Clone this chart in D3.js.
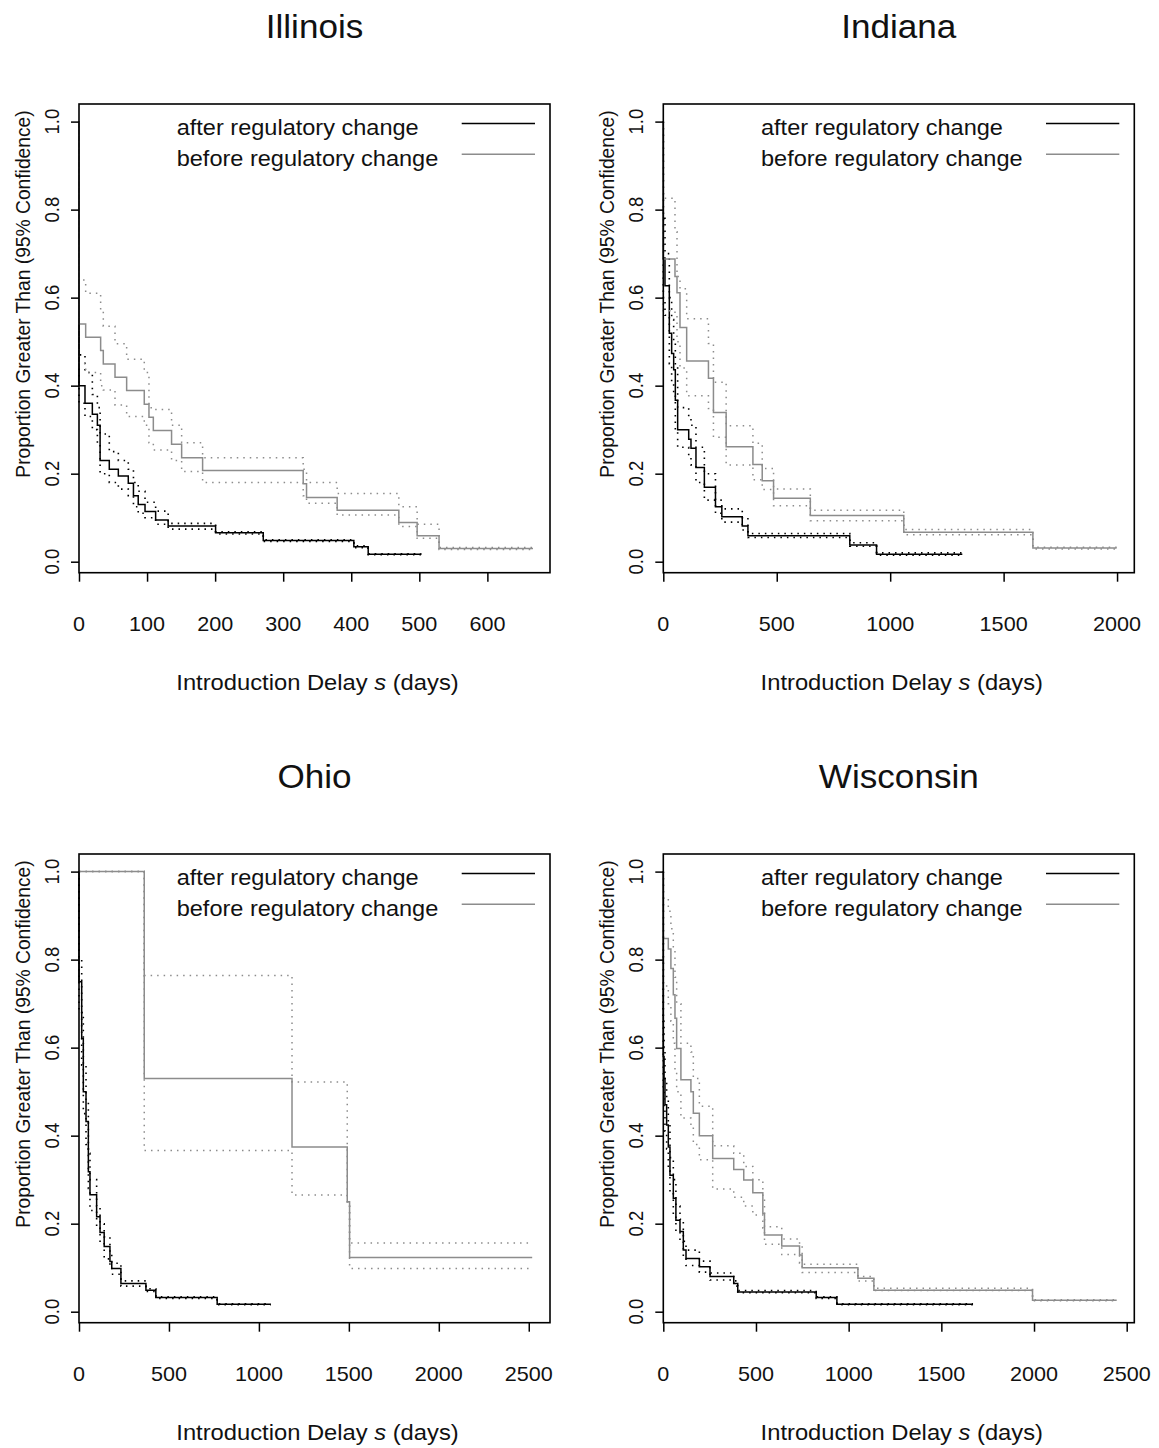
<!DOCTYPE html>
<html>
<head>
<meta charset="utf-8">
<script src="https://cdn.jsdelivr.net/npm/d3@7"></script>
<style>
  body { margin: 0; background: #fff; }
  svg { display: block; }
</style>
</head>
<body>
<svg id="chart" width="1159" height="1448"></svg>
<script>
// ==================== DATA ====================
// every row: [time (days), estimate, lower 95%, upper 95%]
const illinoisAfter = [
  [0, 0.40, 0.36, 0.47], [8.8, 0.36, 0.33, 0.43], [19.6, 0.335, 0.30, 0.38],
  [27, 0.31, 0.27, 0.35], [31, 0.23, 0.20, 0.29], [44.5, 0.21, 0.18, 0.25],
  [57.8, 0.195, 0.165, 0.23], [72.4, 0.178, 0.15, 0.21], [80, 0.15, 0.125, 0.18],
  [87, 0.13, 0.11, 0.16], [97, 0.114, 0.10, 0.135], [112.6, 0.095, 0.085, 0.115],
  [131, 0.081, 0.074, 0.087], [200.7, 0.066, 0.063, 0.068], [270.7, 0.048, 0.046, 0.05],
  [403.8, 0.034, 0.032, 0.036], [424.9, 0.017, 0.016, 0.018]
];
const illinoisBefore = [
  [0, 0.54, 0.45, 0.64], [9.8, 0.51, 0.43, 0.61], [31.8, 0.48, 0.40, 0.57],
  [35.7, 0.449, 0.39, 0.535], [52.9, 0.419, 0.356, 0.495], [70, 0.389, 0.33, 0.46],
  [95.9, 0.358, 0.31, 0.43], [102.8, 0.328, 0.27, 0.35], [109.2, 0.298, 0.254, 0.346],
  [136, 0.267, 0.23, 0.31], [150.8, 0.236, 0.205, 0.27], [181.6, 0.207, 0.18, 0.236],
  [329.4, 0.177, 0.15, 0.21], [334.3, 0.146, 0.133, 0.18], [379.3, 0.117, 0.106, 0.155],
  [469.9, 0.089, 0.08, 0.125], [496.8, 0.059, 0.053, 0.085], [529, 0.030, 0.028, 0.032]
];
const indianaAfter = [
  [0, 0.69, 0.60, 0.78], [7.4, 0.627, 0.56, 0.70], [26.5, 0.519, 0.45, 0.60],
  [36.8, 0.473, 0.41, 0.55], [45.7, 0.436, 0.38, 0.50], [53, 0.367, 0.30, 0.44],
  [63.3, 0.30, 0.26, 0.35], [112, 0.278, 0.24, 0.33], [122, 0.258, 0.22, 0.31],
  [144, 0.214, 0.18, 0.26], [181, 0.169, 0.14, 0.20], [230, 0.125, 0.11, 0.14],
  [258, 0.102, 0.09, 0.12], [348, 0.081, 0.072, 0.10], [373, 0.059, 0.055, 0.064],
  [822, 0.038, 0.035, 0.043], [940, 0.017, 0.015, 0.02]
];
const indianaBefore = [
  [0, 0.688, 0.57, 0.826], [51.5, 0.648, 0.56, 0.75], [60.4, 0.611, 0.50, 0.648],
  [73.6, 0.532, 0.44, 0.62], [103, 0.456, 0.377, 0.552], [199, 0.417, 0.348, 0.496],
  [221, 0.339, 0.283, 0.408], [277, 0.261, 0.22, 0.309], [395, 0.221, 0.186, 0.269],
  [436, 0.184, 0.164, 0.212], [486, 0.144, 0.127, 0.165], [648, 0.105, 0.093, 0.117],
  [1060, 0.067, 0.061, 0.073], [1629, 0.031, 0.029, 0.033]
];
const ohioAfter = [
  [0, 0.75, 0.68, 0.80], [15, 0.621, 0.56, 0.68], [24, 0.50, 0.45, 0.56],
  [39, 0.432, 0.38, 0.48], [52, 0.318, 0.28, 0.36], [61, 0.266, 0.23, 0.30],
  [98, 0.216, 0.19, 0.24], [117, 0.18, 0.16, 0.20], [140, 0.148, 0.12, 0.17],
  [172, 0.114, 0.10, 0.13], [182, 0.098, 0.085, 0.11], [233, 0.064, 0.058, 0.07],
  [372, 0.049, 0.046, 0.052], [427, 0.032, 0.030, 0.034], [768, 0.017, 0.016, 0.018]
];
const ohioBefore = [
  [0, 1.0, 1.0, 1.0], [362.7, 0.530, 0.366, 0.764], [1184, 0.374, 0.265, 0.522],
  [1491, 0.25, 0.25, 0.25], [1504, 0.123, 0.098, 0.156]
];
const wisconsinAfter = [
  [0, 0.58, 0.50, 0.66], [4, 0.53, 0.46, 0.60], [9, 0.47, 0.41, 0.53],
  [18, 0.424, 0.37, 0.48], [27, 0.374, 0.32, 0.43], [36, 0.31, 0.27, 0.35],
  [54, 0.258, 0.22, 0.30], [68, 0.208, 0.18, 0.24], [90, 0.182, 0.16, 0.21],
  [108, 0.14, 0.12, 0.16], [122.5, 0.121, 0.105, 0.14], [194.5, 0.102, 0.09, 0.115],
  [252, 0.08, 0.072, 0.088], [380, 0.064, 0.058, 0.07], [401.6, 0.045, 0.043, 0.048],
  [825, 0.032, 0.030, 0.034], [936.5, 0.017, 0.016, 0.018]
];
const wisconsinBefore = [
  [0, 0.848, 0.74, 0.94], [27, 0.824, 0.70, 0.91], [41, 0.78, 0.66, 0.87],
  [54, 0.72, 0.61, 0.82], [63, 0.667, 0.55, 0.76], [72, 0.598, 0.50, 0.70],
  [95, 0.527, 0.44, 0.61], [149, 0.50, 0.42, 0.59], [162, 0.451, 0.38, 0.53],
  [194.5, 0.40, 0.345, 0.467], [266.5, 0.348, 0.279, 0.377], [380, 0.323, 0.26, 0.36],
  [434, 0.299, 0.24, 0.33], [483, 0.27, 0.22, 0.30], [537, 0.223, 0.19, 0.26],
  [546, 0.174, 0.153, 0.193], [639, 0.149, 0.13, 0.165], [735, 0.129, 0.11, 0.15],
  [749, 0.10, 0.089, 0.108], [1050, 0.076, 0.07, 0.08], [1136, 0.049, 0.048, 0.053],
  [1992, 0.026, 0.025, 0.027]
];

// last follow-up time of each curve: [after, before]
const lastTime = {
  illinois: [503, 667], indiana: [1318, 1998], ohio: [1066, 2519], wisconsin: [1671, 2446]
};

const stateNames = ["Illinois", "Indiana", "Ohio", "Wisconsin"];
const xTicks = [
  [0, 100, 200, 300, 400, 500, 600],
  [0, 500, 1000, 1500, 2000],
  [0, 500, 1000, 1500, 2000, 2500],
  [0, 500, 1000, 1500, 2000, 2500]
];
const xMax = [692, 2076, 2618, 2541];
const yTicks = [0, 0.2, 0.4, 0.6, 0.8, 1.0];
const legendLabels = ["after regulatory change", "before regulatory change"];
const yTitle = "Proportion Greater Than (95% Confidence)";

// ==================== LAYOUT ====================
const boxW = 471, boxH = 468.7;
const boxX = [79, 663.3, 79, 663.3];
const boxY = [104, 104, 854, 854];
const GREY = "#8c8c8c";
const FONT = "'Liberation Sans', Arial, Helvetica, sans-serif";
const SX = 1.08; // glyphs in the source are slightly wider than tall

const svg = d3.select("#chart");

function label(g, x, y, str, size, rotate) {
  return g.append("text")
    .attr("transform", `translate(${x},${y}) scale(${SX},1)` + (rotate ? " rotate(-90)" : ""))
    .attr("text-anchor", "middle")
    .style("font-family", FONT)
    .style("font-size", size + "px")
    .attr("fill", "#111")
    .text(str);
}

const curves = [
  [illinoisAfter, illinoisBefore, lastTime.illinois],
  [indianaAfter, indianaBefore, lastTime.indiana],
  [ohioAfter, ohioBefore, lastTime.ohio],
  [wisconsinAfter, wisconsinBefore, lastTime.wisconsin]
];

stateNames.forEach((name, i) => {
  const x0 = boxX[i], y0 = boxY[i];
  const g = svg.append("g");

  const x = d3.scaleLinear().domain([0, xMax[i]]).range([x0, x0 + boxW]);
  const y = d3.scaleLinear().domain([-0.025, 1.04]).range([y0 + boxH, y0]);

  // step path starting at (0, 1)
  function stepPath(rows, col, end) {
    const pts = [[0, 1]].concat(rows.map((r) => [r[0], r[col]]));
    pts.push([end, rows[rows.length - 1][col]]);
    return d3.line().x((d) => x(d[0])).y((d) => y(d[1])).curve(d3.curveStepAfter)(pts);
  }

  const [after, before, ends] = curves[i];

  // after: black
  [2, 3].forEach((col) => {
    g.append("path").attr("d", stepPath(after, col, ends[0]))
      .attr("fill", "none").attr("stroke", "#000").attr("stroke-width", 1.6)
      .attr("stroke-dasharray", "1.5,5");
  });
  g.append("path").attr("d", stepPath(after, 1, ends[0]))
    .attr("fill", "none").attr("stroke", "#000").attr("stroke-width", 1.5);

  // before: grey (drawn over, so the shared drop at s = 0 reads grey)
  [2, 3].forEach((col) => {
    g.append("path").attr("d", stepPath(before, col, ends[1]))
      .attr("fill", "none").attr("stroke", GREY).attr("stroke-width", 1.5)
      .attr("stroke-dasharray", "1.5,5");
  });
  g.append("path").attr("d", stepPath(before, 1, ends[1]))
    .attr("fill", "none").attr("stroke", GREY).attr("stroke-width", 1.5);

  // box
  g.append("rect")
    .attr("x", x0).attr("y", y0).attr("width", boxW).attr("height", boxH)
    .attr("fill", "none").attr("stroke", "#000").attr("stroke-width", 1.6);

  // axes (tick marks only; labels drawn below)
  const xa = g.append("g").attr("transform", `translate(0,${y0 + boxH})`)
    .call(d3.axisBottom(x).tickValues(xTicks[i]).tickSize(9).tickFormat(""));
  const ya = g.append("g").attr("transform", `translate(${x0},0)`)
    .call(d3.axisLeft(y).tickValues(yTicks).tickSize(8).tickFormat(""));
  [xa, ya].forEach((a) => {
    a.select(".domain").remove();
    a.selectAll("line").attr("stroke", "#000").attr("stroke-width", 1.5);
  });

  xTicks[i].forEach((t) => label(g, x(t), y0 + boxH + 58.5, String(t), 20));
  yTicks.forEach((t) => label(g, x0 - 20, y(t), t.toFixed(1), 18.5, true));

  // titles
  label(g, x0 + boxW / 2, y0 - 66, name, 32.5);
  label(g, x0 - 49, y0 + 190, yTitle, 19.25, true);

  const xl = label(g, x0 + boxW / 2 + 3, y0 + boxH + 117, "", 22);
  xl.append("tspan").text("Introduction Delay ");
  xl.append("tspan").style("font-style", "italic").text("s");
  xl.append("tspan").text(" (days)");

  // legend
  legendLabels.forEach((txt, k) => {
    const ly = y0 + 19.5 + k * 30.7;
    g.append("line")
      .attr("x1", x0 + 382.7).attr("x2", x0 + 456)
      .attr("y1", ly).attr("y2", ly)
      .attr("stroke", k === 0 ? "#000" : GREY).attr("stroke-width", 1.5);
    label(g, x0 + 97.7, ly + 11.5, txt, 21.8).attr("text-anchor", "start");
  });
});
</script>
</body>
</html>
